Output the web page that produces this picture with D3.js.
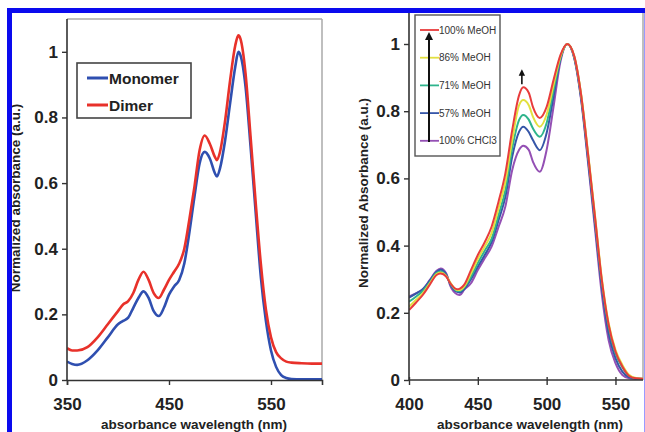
<!DOCTYPE html>
<html><head><meta charset="utf-8">
<script src="https://cdn.jsdelivr.net/npm/d3@7"></script>
<style>
body{margin:0;background:#fff;}
svg{display:block;font-family:"Liberation Sans",Arial,sans-serif;}
</style></head>
<body>
<svg id="c" width="645" height="432"></svg>
<script>
// ---------- Left panel data ----------
const wlLeft = [350,355,360,370,380,390,400,405,410,415,420,425,430,435,440,445,450,455,460,465,470,475,480,485,490,495,497,500,505,510,515,518,520,525,530,535,540,545,550,555,560,565,570,580,590,600];
const monomer = [0.056,0.049,0.046,0.06,0.09,0.13,0.17,0.18,0.19,0.22,0.25,0.27,0.25,0.21,0.195,0.22,0.26,0.285,0.305,0.355,0.45,0.56,0.66,0.695,0.675,0.63,0.62,0.645,0.73,0.845,0.955,1.0,0.99,0.895,0.71,0.51,0.315,0.18,0.09,0.04,0.015,0.006,0.003,0.002,0.002,0.002];
const dimer = [0.097,0.09,0.09,0.10,0.13,0.17,0.21,0.23,0.24,0.265,0.305,0.33,0.305,0.265,0.25,0.275,0.305,0.33,0.355,0.40,0.49,0.59,0.70,0.745,0.72,0.68,0.67,0.695,0.79,0.915,1.02,1.05,1.04,0.935,0.74,0.54,0.355,0.215,0.13,0.085,0.066,0.056,0.053,0.051,0.05,0.05];
const leftNames = ["Monomer","Dimer"];
const leftXTicks = [350,450,550];
const yTicks = [0,0.2,0.4,0.6,0.8,1];
const yTickLabels = ["0","0.2","0.4","0.6","0.8","1"];

// ---------- Right panel data ----------
const wlRight = [400,405,410,415,420,423,427,430,435,437,440,445,450,455,460,465,470,475,480,483,487,490,495,500,505,510,515,520,525,530,535,540,545,550,555,560,565,570];
const meoh100 = [.208,.23,.253,.283,.3125,.317,.308,.288,.27,.272,.283,.327,.372,.41,.456,.53,.615,.744,.848,.871,.855,.813,.78,.813,.893,.967,1.0,.965,.85,.675,.49,.3,.165,.085,.04,.012,.005,.004];
const meoh86 = [.218,.238,.258,.287,.315,.32,.31,.29,.268,.268,.278,.317,.36,.397,.437,.51,.59,.714,.818,.833,.818,.784,.754,.79,.878,.962,1.0,.965,.852,.68,.495,.305,.17,.09,.045,.015,.006,.004];
const meoh71 = [.233,.248,.265,.29,.318,.323,.31,.288,.265,.265,.275,.307,.348,.385,.42,.49,.565,.69,.774,.789,.775,.749,.724,.765,.862,.958,1.0,.963,.848,.672,.485,.295,.16,.08,.038,.012,.005,.004];
const meoh57 = [.245,.257,.27,.295,.322,.328,.315,.285,.262,.26,.27,.3,.337,.372,.41,.475,.545,.665,.739,.754,.738,.714,.684,.735,.843,.955,1.0,.96,.84,.66,.47,.28,.14,.065,.025,.008,.004,.003];
const chcl3 = [.248,.258,.27,.297,.325,.332,.318,.28,.255,.253,.268,.288,.327,.362,.397,.455,.516,.625,.685,.697,.685,.65,.62,.685,.813,.947,1.0,.958,.835,.65,.455,.258,.119,.05,.015,.005,.003,.003];
const rightNames = ["100% MeOH","86% MeOH","71% MeOH","57% MeOH","100% CHCl3"];
const rightXTicks = [400,450,500,550];

const svg = d3.select("#c");
const defs = svg.append("defs");
defs.append("marker").attr("id","ah").attr("viewBox","0 0 10 10").attr("refX",5).attr("refY",5)
  .attr("markerWidth",4).attr("markerHeight",5).attr("orient","auto")
  .append("path").attr("d","M0,0 L10,5 L0,10 z").attr("fill","#111");

// ======== LEFT PANEL ========
const xL = d3.scaleLinear().domain([350,600]).range([67,322]);
const yL = d3.scaleLinear().domain([0,1.1]).range([380,19]);
defs.append("clipPath").attr("id","clipL").append("rect").attr("x",67).attr("y",19).attr("width",255).attr("height",361);

// frame
svg.append("line").attr("x1",67).attr("x2",322).attr("y1",19).attr("y2",19).attr("stroke","#aaa").attr("stroke-width",1.5);
svg.append("line").attr("x1",322).attr("x2",322).attr("y1",19).attr("y2",380).attr("stroke","#aaa").attr("stroke-width",1.5);

const leftColors = ["#2f4fb0","#e8312a"];
const lineL = d3.line().x((d,i)=>xL(wlLeft[i])).y(d=>yL(d)).curve(d3.curveMonotoneX);
const gL = svg.append("g").attr("clip-path","url(#clipL)");
[monomer,dimer].forEach((s,k)=>{
  gL.append("path").attr("d",lineL(s)).attr("fill","none").attr("stroke",leftColors[k]).attr("stroke-width",2.6).attr("stroke-linejoin","round");
});

// axes
const axL = svg.append("g").attr("transform","translate(67,0)")
  .call(d3.axisLeft(yL).tickValues(yTicks).tickFormat((d,i)=>yTickLabels[i]).tickSize(5).tickPadding(4));
const axLB = svg.append("g").attr("transform","translate(0,380)")
  .call(d3.axisBottom(xL).tickValues(leftXTicks).tickSize(5).tickPadding(17));
[axL,axLB].forEach(a=>{
  a.select(".domain").attr("stroke","#333").attr("stroke-width",1.6);
  a.selectAll(".tick line").attr("stroke","#333").attr("stroke-width",1.4);
  a.selectAll(".tick text").attr("font-size",17).attr("font-weight","bold").attr("fill","#222").attr("font-family","Liberation Sans, Arial, sans-serif");
});
axL.select(".domain").attr("d","M0,19V380");
axLB.selectAll(".tick text").attr("y",18);

// legend
const lg = svg.append("g");
lg.append("rect").attr("x",77).attr("y",63).attr("width",114).attr("height",55).attr("fill","#fff").attr("stroke","#444").attr("stroke-width",1.6);
leftNames.forEach((n,i)=>{
  const yy = 78 + i*27;
  lg.append("line").attr("x1",87).attr("x2",108).attr("y1",yy).attr("y2",yy).attr("stroke",leftColors[i]).attr("stroke-width",3);
  lg.append("text").attr("x",109).attr("y",yy+5.5).attr("font-size",15.5).attr("font-weight","bold").attr("fill","#222").text(n);
});

// axis titles
svg.append("text").attr("transform","translate(20,198) rotate(-90)").attr("text-anchor","middle")
  .attr("font-size",13.5).attr("font-weight","bold").attr("fill","#222").text("Normalized absorbance (a.u.)");
svg.append("text").attr("x",194).attr("y",429).attr("text-anchor","middle")
  .attr("font-size",13.5).attr("font-weight","bold").attr("fill","#222").text("absorbance wavelength (nm)");

// ======== RIGHT PANEL ========
const xR = d3.scaleLinear().domain([400,570]).range([409,643]);
const yR = d3.scaleLinear().domain([0,1.1]).range([380,10.4]);
defs.append("clipPath").attr("id","clipR").append("rect").attr("x",409).attr("y",10).attr("width",234).attr("height",370);

svg.append("line").attr("x1",643).attr("x2",643).attr("y1",13).attr("y2",380).attr("stroke","#aaa").attr("stroke-width",1.5);

const rightColors = ["#e83c3c","#e2e040","#2fb48c","#3656a8","#9450b4"];
const lineR = d3.line().x((d,i)=>xR(wlRight[i])).y(d=>yR(d)).curve(d3.curveMonotoneX);
const gR = svg.append("g").attr("clip-path","url(#clipR)");
const rSeries = [meoh100,meoh86,meoh71,meoh57,chcl3];
for (let k=rSeries.length-1;k>=0;k--){
  gR.append("path").attr("d",lineR(rSeries[k])).attr("fill","none").attr("stroke",rightColors[k]).attr("stroke-width",2).attr("stroke-linejoin","round");
}

const axR = svg.append("g").attr("transform","translate(409,0)")
  .call(d3.axisLeft(yR).tickValues(yTicks).tickFormat((d,i)=>yTickLabels[i]).tickSize(5).tickPadding(4));
const axRB = svg.append("g").attr("transform","translate(0,380)")
  .call(d3.axisBottom(xR).tickValues(rightXTicks).tickSize(5).tickPadding(17));
[axR,axRB].forEach(a=>{
  a.select(".domain").attr("stroke","#333").attr("stroke-width",1.6);
  a.selectAll(".tick line").attr("stroke","#333").attr("stroke-width",1.4);
  a.selectAll(".tick text").attr("font-size",17).attr("font-weight","bold").attr("fill","#222").attr("font-family","Liberation Sans, Arial, sans-serif");
});
axR.select(".domain").attr("d","M0,13V380");
axRB.select(".domain").attr("d","M409,0H643");
axRB.selectAll(".tick line").attr("y1",-3);
axRB.selectAll(".tick text").attr("y",18);

// legend right
const lr = svg.append("g");
lr.append("rect").attr("x",415).attr("y",15).attr("width",85).attr("height",141).attr("fill","#fff").attr("stroke","#555").attr("stroke-width",1.4);
rightNames.forEach((n,i)=>{
  const yy = 30 + i*27.7;
  lr.append("line").attr("x1",420).attr("x2",439).attr("y1",yy).attr("y2",yy).attr("stroke",rightColors[i]).attr("stroke-width",1.8);
  lr.append("text").attr("x",439).attr("y",yy+3.6).attr("font-size",10).attr("fill","#333").text(n);
});
lr.append("line").attr("x1",429).attr("x2",429).attr("y1",142).attr("y2",36).attr("stroke","#111").attr("stroke-width",2).attr("marker-end","url(#ah)");

// peak arrow
svg.append("line").attr("x1",xR(482)).attr("x2",xR(482)).attr("y1",yR(0.88)).attr("y2",yR(0.915))
  .attr("stroke","#111").attr("stroke-width",1.6).attr("marker-end","url(#ah)");

svg.append("text").attr("transform","translate(368,193) rotate(-90)").attr("text-anchor","middle")
  .attr("font-size",13.5).attr("font-weight","bold").attr("fill","#222").text("Normalized Absorbance (a.u.)");
svg.append("text").attr("x",530).attr("y",429).attr("text-anchor","middle")
  .attr("font-size",13.5).attr("font-weight","bold").attr("fill","#222").text("absorbance wavelength (nm)");

// ======== Blue frame ========
svg.append("rect").attr("x",7).attr("y",8).attr("width",638).attr("height",5).attr("fill","#0a0aee");
svg.append("rect").attr("x",7).attr("y",8).attr("width",5).attr("height",424).attr("fill","#0a0aee");
svg.append("rect").attr("x",644).attr("y",13).attr("width",1).attr("height",419).attr("fill","#9a9aff");
</script>
</body></html>
